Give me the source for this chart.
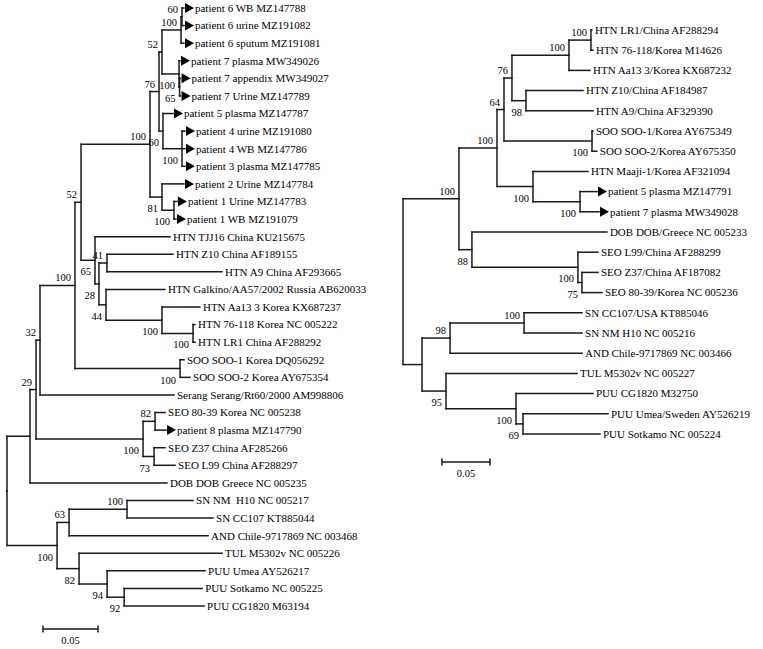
<!DOCTYPE html>
<html>
<head>
<meta charset="utf-8">
<script src="https://cdn.jsdelivr.net/npm/d3@7"></script>
<style>
  body { margin: 0; background: #fff; }
  svg { display: block; }
  text { font-family: "Liberation Serif", "Times New Roman", serif; fill: #000; }
</style>
</head>
<body>
<div id="chart"></div>
<script>
// Trees, Newick style: 'tip':branch, (…)bootstrap:branch
const leftTree = `(
(((((((((
(('patient 6 WB MZ147788':0.0018,'patient 6 urine MZ191082':0.0018)60:0.0009,'patient 6 sputum MZ191081':0.0027)100:0.0173,
('patient 7 plasma MW349026':0.0009,('patient 7 appendix MW349027':0.0009,'patient 7 Urine MZ147789':0.0009)65:0.0005)100:0.0155
)52:0.0027,
('patient 5 plasma MZ147787':0.0091,('patient 4 urine MZ191080':0.0027,'patient 4 WB MZ147786':0.0027,'patient 3 plasma MZ147785':0.0027)100:0.0173)60:0.0036
)76:0.0082,
('patient 2 Urine MZ147784':0.02,('patient 1 Urine MZ147783':0.0027,'patient 1 WB MZ191079':0.0018)100:0.0109)81:0.0109
)100:0.0627,
('HTN TJJ16 China KU215675':0.0682,(('HTN Z10 China AF189155':0.06,'HTN A9 China AF293665':0.1045)41:0.0073,('HTN Galkino/AA57/2002 Russia AB620033':0.0536,('HTN Aa13 3 Korea KX687237':0.0345,('HTN 76-118 Korea NC 005222':0.0018,'HTN LR1 China AF288292':0.0018)100:0.0282)100:0.0509)44:0.0064)28:0.0036)65:0.0127
)52:0.0055,
('SOO SOO-1 Korea DQ056292':0.0036,'SOO SOO-2 Korea AY675354':0.0091)100:0.0955
)100:0.0318,
'Serang Serang/Rt60/2000 AM998806':0.1218
)32:0.0036,
(('SEO 80-39 Korea NC 005238':0.0091,'patient 8 plasma MZ147790':0.01)82:0.0109,('SEO Z37 China AF285266':0.01,'SEO L99 China AF288297':0.0191)73:0.01)100:0.0973
)29:0.0055,
'DOB DOB Greece NC 005235':0.1245
):0.0209,
((('SN NM  H10 NC 005217':0.06,'SN CC107 KT885044':0.0782)100:0.0527,'AND Chile-9717869 NC 003468':0.1264)63:0.0109,
('TUL M5302v NC 005226':0.13,('PUU Umea AY526217':0.0891,('PUU Sotkamo NC 005225':0.0709,'PUU CG1820 M63194':0.0727)92:0.0155)94:0.0255)82:0.02)100:0.0455
)`;

const rightTree = `(
((((
(('HTN LR1/China AF288294':0.001,'HTN 76-118/Korea M14626':0.002)100:0.0229,'HTN Aa13 3/Korea KX687232':0.0219)100:0.0594,
('HTN Z10/China AF184987':0.0594,'HTN A9/China AF329390':0.0698)98:0.0146
)76:0.0083,
('SOO SOO-1/Korea AY675349':0.001,'SOO SOO-2/Korea AY675350':0.005)100:0.0917
)64:0.0073,
('HTN Maaji-1/Korea AF321094':0.0573,('patient 5 plasma MZ147791':0.0177,'patient 7 plasma MW349028':0.0198)100:0.049)100:0.0375
)100:0.0396,
('DOB DOB/Greece NC 005233':0.1406,('SEO L99/China AF288299':0.0208,('SEO Z37/China AF187082':0.0167,'SEO 80-39/Korea NC 005236':0.0208)75:0.0042)100:0.1104)88:0.0135
)100:0.0583,
(
(('SN CC107/USA KT885046':0.0604,'SN NM H10 NC 005216':0.0604)100:0.0771,'AND Chile-9717869 NC 003466':0.1375)98:0.0292,
('TUL M5302v NC 005227':0.1365,('PUU CG1820 M32750':0.0802,('PUU Umea/Sweden AY526219':0.0885,'PUU Sotkamo NC 005224':0.0802)69:0.0073)100:0.0729)95:0.025
):0.0198
)`;

const scaleBarValue = 0.05;
const scaleBarLabel = "0.05";

// Newick parser (names quoted, no whitespace outside quotes after cleanup)
function parseNewick(raw) {
  const s = raw.split("\n").map((l) => l.trim()).join("");
  let i = 0;
  function node() {
    const n = {};
    if (s[i] === "(") {
      i++;
      n.children = [];
      do {
        n.children.push(node());
      } while (s[i++] === ",");
    }
    if (s[i] === "'") {
      const j = s.indexOf("'", i + 1);
      n.name = s.slice(i + 1, j);
      i = j + 1;
    } else {
      let j = i;
      while (j < s.length && !":,);".includes(s[j])) j++;
      const lab = s.slice(i, j);
      if (lab) n.support = lab;
      i = j;
    }
    if (s[i] === ":") {
      let j = ++i;
      while (j < s.length && !",);".includes(s[j])) j++;
      n.length = +s.slice(i, j);
      i = j;
    }
    return n;
  }
  return node();
}

const W = 763, H = 649;
const svg = d3
  .select("#chart")
  .append("svg")
  .attr("width", W)
  .attr("height", H)
  .attr("viewBox", [0, 0, W, H]);

svg.append("rect").attr("width", W).attr("height", H).attr("fill", "#fff");

function drawTree(newick, opt) {
  const root = d3.hierarchy(parseNewick(newick));
  root.each((d) => {
    d.dist = d.parent ? d.parent.dist + (d.data.length || 0) : 0;
  });

  const x = d3
    .scaleLinear()
    .domain([0, scaleBarValue])
    .range([opt.rootX, opt.rootX + opt.barPx]);

  const leaves = root.leaves();
  const y = d3
    .scalePoint()
    .domain(leaves.map((d) => d.data.name))
    .range([opt.top, opt.bottom]);

  root.eachAfter((d) => {
    d.px = x(d.dist);
    if (!d.children) d.py = y(d.data.name);
    else d.py = (d.children[0].py + d.children[d.children.length - 1].py) / 2;
  });

  const g = svg.append("g");

  // branches
  const paths = [];
  root.each((d) => {
    if (d.parent) paths.push(`M${d.parent.px},${d.py}H${d.px}`);
    if (d.children) {
      const c = d.children;
      paths.push(`M${d.px},${c[0].py}V${c[c.length - 1].py}`);
    }
  });
  g.selectAll("path.branch")
    .data(paths)
    .join("path")
    .attr("class", "branch")
    .attr("d", (d) => d)
    .attr("fill", "none")
    .attr("stroke", "#1a1a1a")
    .attr("stroke-width", 1.5)
    .attr("stroke-linecap", "square");

  // bootstrap values: above for first child, below otherwise
  const internals = root.descendants().filter((d) => d.children && d.data.support);
  g.selectAll("text.boot")
    .data(internals)
    .join("text")
    .attr("class", "boot")
    .attr("x", (d) => d.px - 4)
    .attr("y", (d) => {
      const first = d.parent && d.parent.children[0] === d;
      return first ? d.py - 4 : d.py + 15;
    })
    .attr("text-anchor", "end")
    .style("font-size", "10.5px")
    .text((d) => d.data.support);

  // tips
  const tip = g
    .selectAll("g.tip")
    .data(leaves)
    .join("g")
    .attr("class", "tip")
    .attr("transform", (d) => `translate(${d.px},${d.py})`);

  tip
    .filter((d) => d.data.name.startsWith("patient"))
    .append("path")
    .attr("d", "M1,-5L10,0L1,5Z")
    .attr("fill", "#000");

  tip
    .append("text")
    .attr("x", (d) => (d.data.name.startsWith("patient") ? 11 : 3))
    .attr("dy", "0.35em")
    .style("font-size", "11px")
    .style("white-space", "pre")
    .text((d) => d.data.name);

  // scale bar
  const bar = svg.append("g").attr("transform", `translate(${opt.barX - opt.rootX},${opt.barY})`);
  bar
    .append("path")
    .attr("d", `M${x(0)},0H${x(scaleBarValue)}M${x(0)},-3.5V3.5M${x(scaleBarValue)},-3.5V3.5`)
    .attr("fill", "none")
    .attr("stroke", "#1a1a1a")
    .attr("stroke-width", 1.5);
  bar
    .append("text")
    .attr("x", (x(0) + x(scaleBarValue)) / 2)
    .attr("y", 15)
    .attr("text-anchor", "middle")
    .style("font-size", "10.5px")
    .text(scaleBarLabel);
}

drawTree(leftTree, { rootX: 7, barPx: 55, top: 8, bottom: 606, barX: 43, barY: 629 });
drawTree(rightTree, { rootX: 403, barPx: 48, top: 30, bottom: 434, barX: 442, barY: 462 });
</script>
</body>
</html>
